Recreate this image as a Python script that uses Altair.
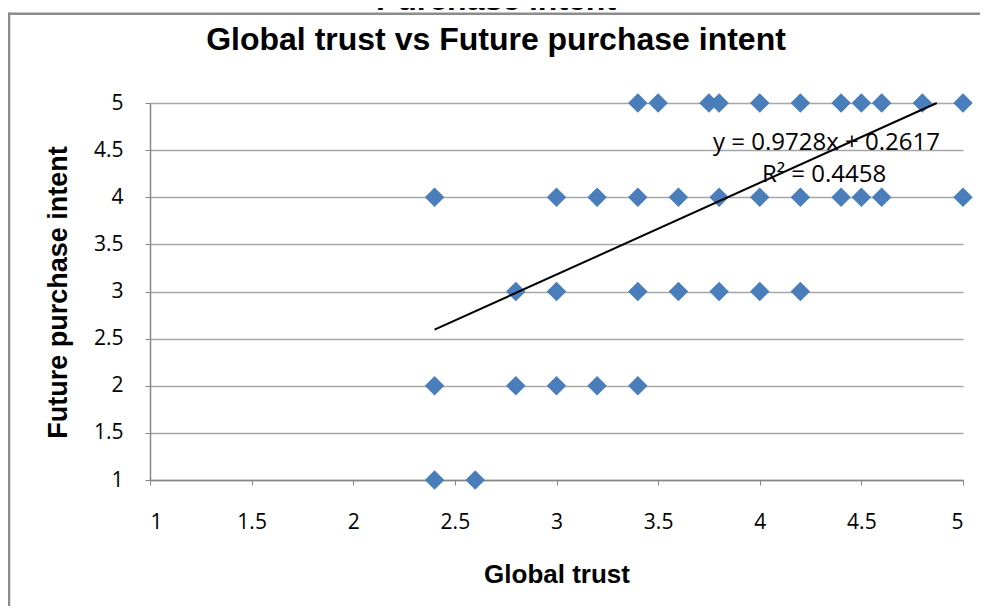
import altair as alt
import pandas as pd

# ---- data ----
trust_at_5 = [3.4, 3.5, 3.75, 3.8, 4.0, 4.2, 4.4, 4.5, 4.6, 4.8, 5.0]
trust_at_4 = [2.4, 3.0, 3.2, 3.4, 3.6, 3.8, 4.0, 4.2, 4.4, 4.5, 4.6, 5.0]
trust_at_3 = [2.8, 3.0, 3.4, 3.6, 3.8, 4.0, 4.2]
trust_at_2 = [2.4, 2.8, 3.0, 3.2, 3.4]
trust_at_1 = [2.4, 2.6]

trend_x = [2.4, 4.871]
trend_y = [2.596, 5.0]

tick_values = [1, 1.5, 2, 2.5, 3, 3.5, 4, 4.5, 5]
chart_title = "Global trust vs Future purchase intent"
cut_title = "Purchase intent"
x_title = "Global trust"
y_title = "Future purchase intent"
eq_text = "y = 0.9728x + 0.2617"
r2_text = "R² = 0.4458"

rows = []
for intent, xs in [(5, trust_at_5), (4, trust_at_4), (3, trust_at_3), (2, trust_at_2), (1, trust_at_1)]:
    for t in xs:
        rows.append({"trust": t, "intent": intent})
pts = pd.DataFrame(rows)
trend = pd.DataFrame({"trust": trend_x, "intent": trend_y})

W, H = 813, 377

xscale = alt.Scale(domain=[1, 5], nice=False, zero=False)
yscale = alt.Scale(domain=[1, 5], nice=False, zero=False)

xaxis = alt.Axis(
    values=tick_values, format="~g", grid=False,
    domainColor="#868686", domainWidth=1.5, tickColor="#868686", tickSize=5,
    labelFont="Open Sans", labelFontSize=21, labelColor="#000000", labelPadding=26,
    title=x_title, titleFont="Liberation Sans", titleFontSize=26, titleFontWeight="bold",
    titleColor="#000000", titleX=W / 2, titleY=102, titleBaseline="alphabetic", titleAlign="center",
)
yaxis = alt.Axis(
    values=tick_values, format="~g", grid=True, gridColor="#a6a6a6", gridWidth=1.5,
    domainColor="#868686", domainWidth=1.5, tickColor="#868686", tickSize=5,
    labelFont="Open Sans", labelFontSize=21, labelColor="#000000", labelPadding=22,
    title=y_title, titleFont="Liberation Sans", titleFontSize=27, titleFontWeight="bold",
    titleColor="#000000", titleAngle=270, titleX=-84, titleY=189,
    titleBaseline="alphabetic", titleAlign="center",
)

one = pd.DataFrame({"label": [""]})

frame_top = alt.Chart(one).mark_rule(stroke="#8c8c8c", strokeWidth=2.5).encode(
    x=alt.value(-142), x2=alt.value(830), y=alt.value(-89.3)
)
frame_left = alt.Chart(one).mark_rule(stroke="#8c8c8c", strokeWidth=2.5).encode(
    x=alt.value(-141), y=alt.value(-90.5), y2=alt.value(511)
)

points = alt.Chart(pts).mark_point(
    shape="diamond", filled=True, size=380, color="#4a7ebb", opacity=1
).encode(
    x=alt.X("trust:Q", scale=xscale, axis=xaxis),
    y=alt.Y("intent:Q", scale=yscale, axis=yaxis),
)

trendline = alt.Chart(trend).mark_line(color="#000000", strokeWidth=2).encode(
    x=alt.X("trust:Q", scale=xscale),
    y=alt.Y("intent:Q", scale=yscale),
)

def label(txt, x, y, font, size, weight="normal"):
    return alt.Chart(pd.DataFrame({"t": [txt]})).mark_text(
        font=font, fontSize=size, fontWeight=weight, align="center",
        baseline="alphabetic", color="#000000"
    ).encode(x=alt.value(x), y=alt.value(y), text="t:N")

title_t = label(chart_title, 346, -53, "Liberation Sans", 32, "bold")
cut_t = label(cut_title, 346, -93, "Liberation Sans", 32, "bold")
eq_t = label(eq_text, 676.5, 47, "Open Sans", 24)
r2_t = label(r2_text, 674, 79, "Open Sans", 24)

chart = alt.layer(frame_top, frame_left, points, trendline, title_t, cut_t, eq_t, r2_t).properties(
    width=W, height=H,
    padding={"left": 142, "top": 95, "right": 17, "bottom": 126},
    autosize=alt.AutoSizeParams(type="none"),
    background="#ffffff",
).configure_view(strokeWidth=0)

chart.save("out.html", embed_options={"renderer": "svg", "actions": False})
